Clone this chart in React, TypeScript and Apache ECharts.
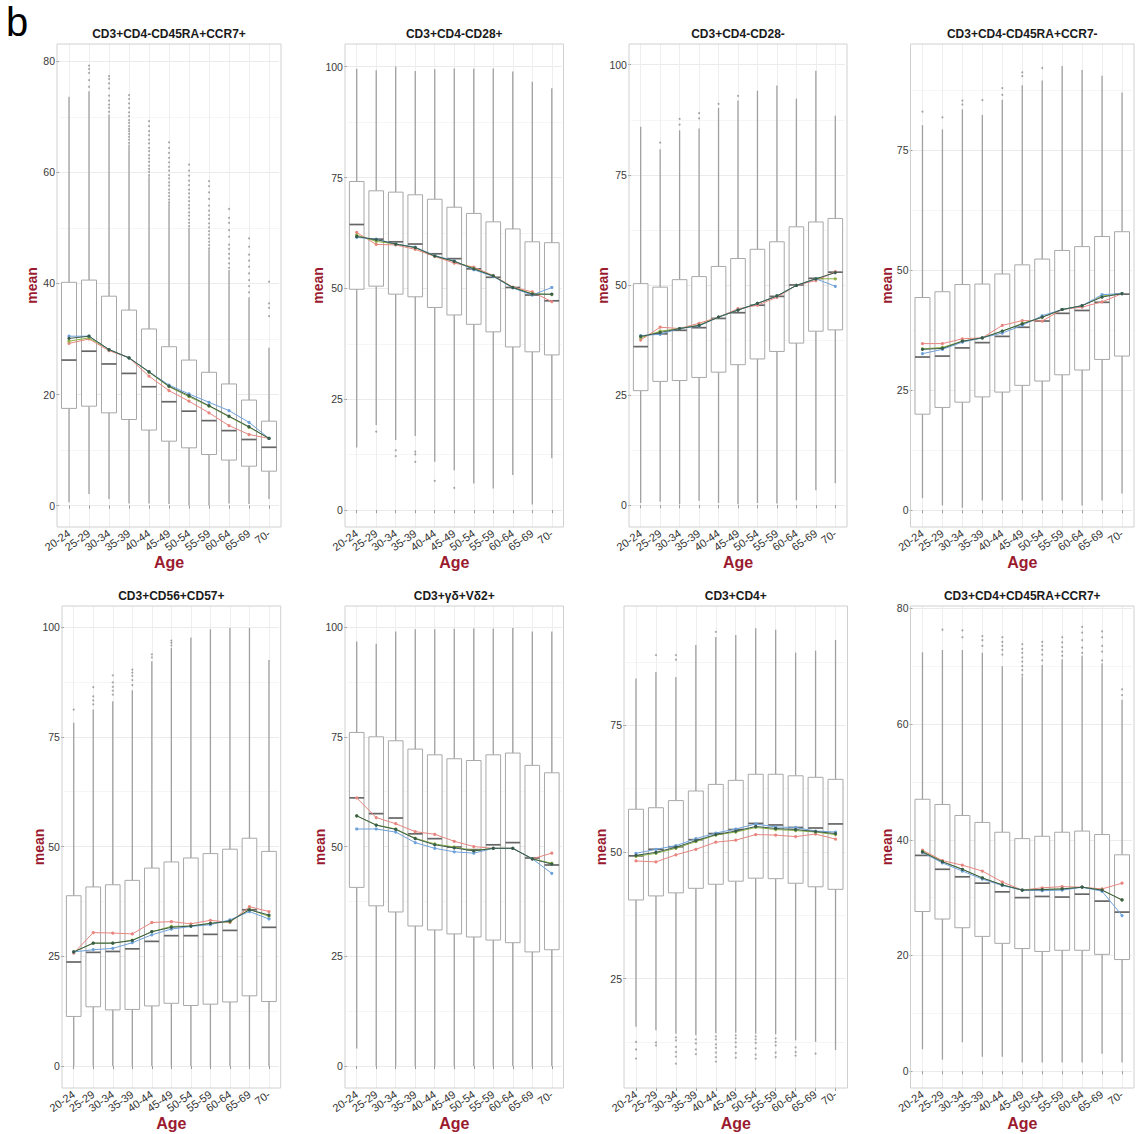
import React, { useEffect, useRef } from "react";
import * as echarts from "echarts";

// ---------- DATA ----------
const ages = ["20-24", "25-29", "30-34", "35-39", "40-44", "45-49", "50-54", "55-59", "60-64", "65-69", "70-"];

const titles = [
  "CD3+CD4-CD45RA+CCR7+",
  "CD3+CD4-CD28+",
  "CD3+CD4-CD28-",
  "CD3+CD4-CD45RA+CCR7-",
  "CD3+CD56+CD57+",
  "CD3+γδ+Vδ2+",
  "CD3+CD4+",
  "CD3+CD4+CD45RA+CCR7+",
];

// group order of mean lines: red, green, blue, dark
// box rows: [min whisker, Q1, median, Q3, max whisker]

// Panel 1: CD3+CD4-CD45RA+CCR7+
const p1Box = [
  [0.6, 17.5, 26.2, 40.2, 73.6], [2.1, 17.9, 27.8, 40.6, 74.6], [1.2, 16.7, 25.5, 37.7, 70.4],
  [0.4, 15.5, 23.8, 35.2, 65.0], [0.4, 13.6, 21.4, 31.8, 59.3], [0.3, 11.6, 18.7, 28.6, 54.4],
  [0.0, 10.4, 17.0, 26.2, 50.0], [0.0, 9.2, 15.3, 24.0, 46.1], [0.4, 8.2, 13.5, 21.9, 42.4],
  [0.3, 7.1, 11.9, 19.0, 37.5], [1.2, 6.2, 10.5, 15.2, 28.4],
];
const p1Red = [29.2, 30.0, 27.9, 26.6, 23.3, 20.7, 18.8, 16.7, 14.4, 12.8, 12.1];
const p1Green = [29.6, 30.2, 28.1, 26.6, 24.0, 21.4, 19.6, 17.9, 16.0, 14.1, 12.1];
const p1Blue = [30.5, 30.5, 28.1, 26.6, 24.1, 21.7, 20.1, 18.6, 17.1, 15.0, 12.1];
const p1Dark = [30.1, 30.5, 28.1, 26.6, 24.1, 21.5, 19.8, 18.0, 16.1, 14.2, 12.1];
const p1Out: [number, number[]][] = [
  [1, [75.4, 76.6, 77.9, 78.6, 79.2]],
  [2, [70.9, 71.6, 72.2, 72.9, 73.8, 75.1, 76.0, 76.8, 77.3]],
  [3, [65.3, 65.9, 66.4, 66.9, 67.4, 67.8, 68.3, 68.9, 69.4, 70.1, 70.8, 71.6, 72.4, 73.2, 73.9]],
  [4, [59.5, 60.1, 60.6, 61.2, 61.9, 62.5, 63.1, 63.8, 64.4, 65.2, 65.9, 66.7, 67.4, 68.3, 69.2]],
  [5, [54.6, 55.1, 55.7, 56.3, 56.9, 57.6, 58.2, 58.9, 59.5, 60.3, 61.0, 61.8, 62.6, 63.5, 64.4, 65.4]],
  [6, [50.3, 50.9, 51.5, 52.2, 52.8, 53.5, 54.1, 54.8, 55.5, 56.2, 56.9, 57.7, 58.5, 59.4, 60.3, 61.4]],
  [7, [46.3, 46.9, 47.5, 48.1, 48.8, 49.4, 50.1, 50.8, 51.6, 52.3, 53.1, 54.0, 55.2, 56.4, 57.5, 58.4]],
  [8, [42.8, 43.6, 44.5, 45.3, 46.2, 47.0, 48.4, 49.6, 50.9, 51.8, 53.4]],
  [9, [38.4, 39.5, 40.6, 41.8, 43.0, 44.1, 45.2, 46.6, 48.1]],
  [10, [34.1, 35.6, 36.4, 40.3]],
];
const p1Ticks = [0, 20, 40, 60, 80];
const p1Minor = [10, 30, 50, 70];

// Panel 2: CD3+CD4-CD28+
const p2Box = [
  [14.1, 49.8, 64.4, 74.1, 99.5], [19.2, 50.5, 61.1, 72.0, 99.2], [15.8, 48.7, 60.5, 71.7, 100.0],
  [16.7, 48.1, 60.0, 71.1, 99.0], [10.9, 45.7, 57.8, 70.1, 99.4], [9.0, 44.0, 56.7, 68.3, 99.6],
  [6.0, 41.9, 54.4, 66.9, 99.5], [4.9, 40.2, 52.5, 65.0, 99.6], [7.9, 36.8, 50.2, 63.4, 98.9],
  [1.3, 35.7, 48.5, 60.5, 96.6], [11.7, 35.0, 47.2, 60.3, 95.1],
];
const p2Red = [62.6, 59.9, 59.8, 58.8, 57.2, 55.7, 54.8, 52.9, 50.3, 49.2, 47.0];
const p2Green = [62.0, 60.6, 60.0, 59.2, 57.3, 56.1, 54.5, 52.8, 50.2, 48.8, 48.6];
const p2Blue = [61.5, 61.1, 60.0, 59.3, 57.4, 56.2, 54.2, 52.7, 50.1, 48.5, 50.2];
const p2Dark = [61.7, 61.0, 60.0, 59.2, 57.3, 56.1, 54.4, 52.8, 50.2, 48.7, 48.7];
const p2Out: [number, number[]][] = [
  [1, [17.7]], [2, [13.5, 12.2]], [3, [13.2, 12.6, 10.9]], [4, [6.6]], [5, [5.0]],
];
const p2Ticks = [0, 25, 50, 75, 100];
const p2Minor = [12.5, 37.5, 62.5, 87.5];

// Panel 3: CD3+CD4-CD28-
const p3Box = [
  [0.5, 26.0, 36.0, 50.3, 85.9], [0.8, 28.1, 38.9, 49.5, 80.8], [0.2, 28.3, 39.7, 51.2, 85.1],
  [1.0, 29.0, 40.3, 51.9, 85.5], [0.5, 30.2, 42.4, 54.2, 90.2], [0.2, 31.9, 43.7, 56.0, 91.9],
  [0.5, 33.2, 45.4, 58.1, 94.1], [0.4, 34.9, 47.4, 59.8, 95.3], [1.1, 36.8, 50.0, 63.2, 92.3],
  [3.4, 39.5, 51.5, 64.3, 98.6], [5.0, 39.8, 52.9, 65.1, 88.4],
];
const p3Red = [37.5, 40.4, 40.1, 41.3, 42.7, 44.6, 45.4, 47.2, 49.9, 51.0, 53.0];
const p3Green = [38.0, 39.5, 40.1, 40.9, 42.7, 44.3, 45.8, 47.5, 49.9, 51.4, 51.4];
const p3Blue = [38.5, 38.8, 40.1, 40.7, 42.7, 44.3, 45.8, 47.5, 49.9, 51.4, 49.7];
const p3Dark = [38.3, 39.2, 40.1, 40.8, 42.7, 44.3, 45.8, 47.5, 49.9, 51.4, 52.8];
const p3Out: [number, number[]][] = [
  [1, [82.3]], [2, [86.4, 87.7]], [3, [87.8, 89.0]], [4, [91.1]], [5, [92.9]],
];
const p3Ticks = [0, 25, 50, 75, 100];
const p3Minor = [12.5, 37.5, 62.5, 87.5];

// Panel 4: CD3+CD4-CD45RA+CCR7-
const p4Box = [
  [2.5, 20.0, 31.9, 44.3, 80.2], [1.0, 21.4, 32.1, 45.5, 79.3], [0.5, 22.5, 33.8, 47.0, 83.5],
  [2.0, 23.6, 34.9, 47.1, 82.3], [2.0, 24.6, 36.2, 49.2, 85.5], [2.0, 26.0, 38.1, 51.1, 88.5],
  [2.0, 26.9, 39.4, 52.3, 89.5], [2.0, 28.2, 41.0, 54.1, 92.5], [1.0, 29.2, 41.6, 54.9, 91.7],
  [2.0, 31.4, 43.3, 57.0, 90.5], [3.5, 32.1, 45.0, 58.0, 87.0],
];
const p4Red = [34.7, 34.7, 35.7, 35.9, 38.5, 39.5, 39.4, 41.8, 42.3, 43.4, 45.1];
const p4Green = [33.6, 33.9, 35.2, 35.9, 37.3, 38.9, 40.2, 41.8, 42.6, 44.6, 45.1];
const p4Blue = [32.6, 33.5, 35.0, 35.9, 36.9, 38.5, 40.5, 41.8, 42.6, 44.9, 45.1];
const p4Dark = [33.5, 33.7, 35.2, 35.9, 37.3, 38.8, 40.2, 41.8, 42.6, 44.4, 45.1];
const p4Out: [number, number[]][] = [
  [0, [83.0]], [1, [81.8]], [2, [84.5, 85.3]], [3, [85.4]], [4, [86.5, 87.9]], [5, [90.4, 91.2]], [6, [92.1]],
];
const p4Ticks = [0, 25, 50, 75];
const p4Minor = [12.5, 37.5, 62.5, 87.5];

// Panel 5: CD3+CD56+CD57+
const p5Box = [
  [0, 11.3, 23.7, 38.8, 78.2], [0, 13.5, 25.9, 40.8, 81.2], [0, 12.8, 26.1, 41.3, 83.1],
  [0, 12.9, 26.7, 42.3, 85.6], [0, 13.7, 28.4, 45.1, 92.2], [0, 14.3, 29.7, 46.5, 95.3],
  [0, 13.8, 29.7, 47.4, 97.6], [0, 14.1, 30.0, 48.4, 99.5], [0, 14.6, 30.9, 49.4, 99.8],
  [0, 16.0, 35.6, 51.9, 99.8], [0, 14.7, 31.6, 48.9, 92.5],
];
const p5Red = [25.7, 30.4, 30.3, 30.1, 32.7, 32.9, 32.4, 33.2, 32.7, 36.3, 35.2];
const p5Green = [26.0, 28.0, 28.0, 28.7, 30.6, 31.8, 31.9, 32.5, 32.9, 35.7, 34.1];
const p5Blue = [26.0, 26.5, 26.8, 28.1, 29.9, 31.2, 31.8, 32.2, 33.3, 35.2, 33.5];
const p5Dark = [26.0, 28.0, 28.0, 28.6, 30.6, 31.6, 31.9, 32.5, 33.0, 35.6, 34.4];
const p5Out: [number, number[]][] = [
  [0, [81.2]], [1, [82.4, 83.3, 84.2, 86.3]], [2, [84.6, 85.5, 86.4, 87.4, 89.0]],
  [3, [86.8, 87.9, 88.9, 89.6, 90.3]], [4, [93.1, 93.8]], [5, [95.8, 96.4, 96.9]],
];
const p5Ticks = [0, 25, 50, 75, 100];
const p5Minor = [12.5, 37.5, 62.5, 87.5];

// Panel 6: CD3+γδ+Vδ2+
const p6Box = [
  [4.0, 40.7, 61.1, 76.0, 96.7], [0, 36.5, 57.5, 75.0, 96.2], [0, 35.1, 56.5, 74.1, 99.0],
  [0, 31.9, 52.9, 72.2, 99.5], [0, 31.0, 51.8, 70.9, 99.5], [0, 30.1, 49.9, 70.0, 99.6],
  [0, 29.4, 49.3, 69.6, 99.7], [0, 28.7, 50.4, 70.9, 99.7], [0, 28.1, 50.9, 71.3, 99.8],
  [0, 26.0, 47.4, 68.5, 99.0], [0, 26.5, 45.8, 66.8, 99.0],
];
const p6Red = [61.1, 56.6, 55.2, 53.4, 52.8, 51.2, 50.0, 49.6, 49.6, 47.2, 48.5];
const p6Green = [57.0, 54.9, 54.0, 51.9, 50.6, 49.9, 49.1, 49.6, 49.6, 47.2, 46.2];
const p6Blue = [54.0, 54.0, 53.3, 50.9, 49.6, 48.8, 48.5, 49.6, 49.6, 47.2, 43.9];
const p6Dark = [57.0, 54.9, 53.9, 51.8, 50.4, 49.7, 49.0, 49.6, 49.6, 47.2, 46.0];
const p6Out: [number, number[]][] = [];
const p6Ticks = [0, 25, 50, 75, 100];
const p6Minor = [12.5, 37.5, 62.5, 87.5];

// Panel 7: CD3+CD4+
const p7Box = [
  [15.5, 40.5, 49.2, 58.4, 84.2], [14.8, 41.3, 50.5, 58.7, 85.5], [14.1, 41.9, 51.0, 60.1, 84.5],
  [13.8, 42.8, 52.4, 62.0, 90.8], [14.2, 43.6, 53.6, 63.3, 92.4], [14.3, 44.2, 54.4, 64.1, 92.8],
  [14.1, 44.8, 55.6, 65.3, 94.1], [14.0, 44.7, 55.3, 65.3, 93.8], [12.8, 43.8, 54.8, 65.0, 89.3],
  [12.5, 43.1, 54.7, 64.7, 89.7], [10.9, 42.6, 55.5, 64.3, 91.8],
];
const p7Red = [48.2, 48.0, 49.4, 50.5, 51.9, 52.3, 53.4, 53.3, 53.0, 53.5, 52.5];
const p7Green = [49.1, 49.7, 50.7, 52.0, 53.3, 53.9, 54.8, 54.4, 54.2, 53.9, 53.4];
const p7Blue = [49.7, 50.5, 51.2, 52.6, 53.7, 54.5, 55.5, 54.9, 54.8, 54.1, 53.9];
const p7Dark = [49.3, 49.9, 50.9, 52.2, 53.4, 54.1, 55.0, 54.6, 54.4, 54.0, 53.6];
const p7Out: [number, number[]][] = [
  [0, [12.5, 11.0, 9.2]],
  [1, [12.4, 11.8, 88.8]],
  [2, [13.4, 12.8, 11.5, 10.5, 9.6, 8.2, 88.8, 87.9]],
  [3, [13.0, 12.2, 11.0, 10.1]],
  [4, [13.6, 13.0, 12.0, 11.3, 10.4, 9.5, 8.6, 93.4]],
  [5, [13.8, 13.2, 12.4, 11.5, 10.3, 9.4]],
  [6, [13.6, 13.0, 12.3, 11.2, 10.0, 9.2]],
  [7, [13.2, 12.5, 11.8, 10.4, 9.5]],
  [8, [11.4, 10.5, 9.8]],
  [9, [10.2]],
];
const p7Ticks = [25, 50, 75];
const p7Minor = [12.5, 37.5, 62.5, 87.5];

// Panel 8: CD3+CD4+CD45RA+CCR7+
const p8Box = [
  [3.8, 27.6, 37.3, 47.0, 72.4], [2.0, 26.3, 34.9, 46.1, 72.8], [5.0, 24.8, 33.6, 44.2, 72.8],
  [2.5, 23.3, 32.5, 43.0, 72.3], [2.5, 22.1, 31.0, 41.3, 70.0], [1.5, 21.2, 30.0, 40.2, 68.2],
  [1.5, 20.7, 30.2, 40.6, 70.2], [1.5, 20.9, 30.1, 41.3, 71.2], [1.5, 20.9, 30.6, 41.5, 71.8],
  [3.0, 20.2, 29.4, 40.9, 70.5], [1.5, 19.3, 27.5, 37.4, 64.2],
];
const p8Red = [38.2, 36.4, 35.6, 34.6, 32.7, 31.3, 31.7, 31.9, 31.8, 31.5, 32.5];
const p8Green = [38.0, 36.2, 34.9, 33.4, 32.2, 31.3, 31.4, 31.5, 31.8, 31.3, 29.6];
const p8Blue = [37.8, 36.0, 34.6, 33.2, 32.1, 31.3, 31.2, 31.3, 31.8, 31.1, 26.9];
const p8Dark = [37.9, 36.2, 34.9, 33.4, 32.2, 31.3, 31.4, 31.5, 31.8, 31.3, 29.6];
const p8Out: [number, number[]][] = [
  [1, [76.3]], [2, [75.0, 76.2]], [3, [73.5, 74.5, 75.2]], [4, [72.0, 72.8, 73.5, 74.2, 75.0]],
  [5, [68.5, 69.3, 70.0, 70.8, 71.5, 72.3, 73.0, 73.8]], [6, [71.0, 72.0, 72.8, 73.5, 74.2]],
  [7, [71.8, 72.5, 73.3, 74.1, 75.0]], [8, [72.3, 73.2, 74.5, 75.8, 76.8]],
  [9, [71.0, 72.5, 73.5, 75.0, 76.0]], [10, [65.0, 66.0]],
];
const p8Ticks = [0, 20, 40, 60, 80];
const p8Minor = [10, 30, 50, 70];

const panels = [
  { box: p1Box, means: [p1Red, p1Green, p1Blue, p1Dark], out: p1Out, ticks: p1Ticks, minor: p1Minor },
  { box: p2Box, means: [p2Red, p2Green, p2Blue, p2Dark], out: p2Out, ticks: p2Ticks, minor: p2Minor },
  { box: p3Box, means: [p3Red, p3Green, p3Blue, p3Dark], out: p3Out, ticks: p3Ticks, minor: p3Minor },
  { box: p4Box, means: [p4Red, p4Green, p4Blue, p4Dark], out: p4Out, ticks: p4Ticks, minor: p4Minor },
  { box: p5Box, means: [p5Red, p5Green, p5Blue, p5Dark], out: p5Out, ticks: p5Ticks, minor: p5Minor },
  { box: p6Box, means: [p6Red, p6Green, p6Blue, p6Dark], out: p6Out, ticks: p6Ticks, minor: p6Minor },
  { box: p7Box, means: [p7Red, p7Green, p7Blue, p7Dark], out: p7Out, ticks: p7Ticks, minor: p7Minor },
  { box: p8Box, means: [p8Red, p8Green, p8Blue, p8Dark], out: p8Out, ticks: p8Ticks, minor: p8Minor },
];

// ---------- LAYOUT / STYLE ----------
const layouts = [
  { left: 57, right: 281, top: 44, bottom: 527, min: -3.85, max: 83.1, meanX: 32 },
  { left: 345, right: 563.5, top: 44, bottom: 527, min: -3.8, max: 105.1, meanX: 318 },
  { left: 629, right: 847, top: 44, bottom: 527, min: -4.95, max: 104.7, meanX: 603 },
  { left: 910.5, right: 1134, top: 44, bottom: 527, min: -3.5, max: 97.1, meanX: 887 },
  { left: 62, right: 280.7, top: 606, bottom: 1088, min: -5.0, max: 104.8, meanX: 39 },
  { left: 345, right: 563.5, top: 606, bottom: 1088, min: -5.0, max: 104.8, meanX: 320 },
  { left: 624, right: 847.5, top: 606, bottom: 1088, min: 3.4, max: 98.5, meanX: 601 },
  { left: 910.5, right: 1134, top: 606, bottom: 1088, min: -2.9, max: 80.4, meanX: 887 },
];

const FONT = "'Liberation Sans', Arial, Helvetica, sans-serif";
const LINE_COLORS = ["#E8857F", "#8DB143", "#6FA2DA", "#3A5C4B"];
const ACCENT = "#9A1B2F";
const BOX_STROKE = "#a8a8a8";
const WHISKER = "#a0a0a0";
const MEDIAN = "#666666";

function renderBox(params: any, api: any) {
  const x = api.value(0);
  const lo = api.coord([x, api.value(1)]);
  const q1 = api.coord([x, api.value(2)]);
  const md = api.coord([x, api.value(3)]);
  const q3 = api.coord([x, api.value(4)]);
  const hi = api.coord([x, api.value(5)]);
  const band = api.size([1, 0])[0];
  const hw = band * 0.375;
  return {
    type: "group",
    children: [
      { type: "line", shape: { x1: lo[0], y1: lo[1], x2: q1[0], y2: q1[1] }, style: { stroke: WHISKER, lineWidth: 1.3 } },
      { type: "line", shape: { x1: q3[0], y1: q3[1], x2: hi[0], y2: hi[1] }, style: { stroke: WHISKER, lineWidth: 1.3 } },
      { type: "rect", shape: { x: q3[0] - hw, y: q3[1], width: hw * 2, height: q1[1] - q3[1] }, style: { fill: "#ffffff", stroke: BOX_STROKE, lineWidth: 1 } },
      { type: "line", shape: { x1: md[0] - hw, y1: md[1], x2: md[0] + hw, y2: md[1] }, style: { stroke: MEDIAN, lineWidth: 1.7 } },
    ],
  };
}

function buildOption() {
  const grid: any[] = [];
  const xAxis: any[] = [];
  const yAxis: any[] = [];
  const series: any[] = [];
  const graphic: any[] = [];

  graphic.push({
    type: "text", x: 6, y: 22, silent: true,
    style: { text: "b", font: `40px ${FONT}`, fill: "#000", textAlign: "left", textVerticalAlign: "middle" },
  });

  panels.forEach((p, i) => {
    const L = layouts[i];
    const unit = (L.right - L.left) / 11.2;
    const height = L.bottom - L.top;
    grid.push({ left: L.left + 0.1 * unit, top: L.top, width: 11 * unit, height, outerBoundsMode: "none", containLabel: false });

    xAxis.push({
      type: "category", gridIndex: i, data: ages, boundaryGap: true,
      axisLine: { show: false },
      axisTick: { show: true, alignWithLabel: true, length: 3, lineStyle: { color: "#9a9a9a" } },
      axisLabel: { interval: 0, rotate: 35, fontSize: 11, color: "#333", margin: 5, fontFamily: FONT },
      splitLine: { show: true, alignWithLabel: true, interval: 0, lineStyle: { color: "#eeeeee", width: 1 } },
    });

    yAxis.push({
      type: "value", gridIndex: i, min: L.min, max: L.max, position: "left",
      axisLine: { show: false },
      axisTick: { show: true, length: 3, customValues: p.ticks, lineStyle: { color: "#9a9a9a" } },
      axisLabel: { customValues: p.ticks, fontSize: 10.5, color: "#3a3a3a", margin: 4, fontFamily: FONT },
      splitLine: { show: true, lineStyle: { color: "#ebebeb", width: 1 } },
    });
    yAxis.push({
      type: "value", gridIndex: i, min: L.min, max: L.max, position: "right",
      axisLine: { show: false },
      axisTick: { show: false, customValues: p.minor },
      axisLabel: { show: false, customValues: p.minor },
      splitLine: { show: true, lineStyle: { color: "#f5f5f5", width: 1 } },
    });

    series.push({
      type: "custom", xAxisIndex: i, yAxisIndex: 2 * i, silent: true, z: 2,
      data: p.box.map((b, k) => [k, ...b]),
      encode: { x: 0, y: [1, 2, 3, 4, 5] },
      renderItem: renderBox,
    });

    const outData: number[][] = [];
    p.out.forEach(([k, vals]) => vals.forEach((v) => outData.push([k, v])));
    series.push({
      type: "scatter", xAxisIndex: i, yAxisIndex: 2 * i, silent: true, z: 3,
      data: outData, symbolSize: 2, itemStyle: { color: "#555", opacity: 0.5 },
    });

    p.means.forEach((vals, k) => {
      series.push({
        type: "line", xAxisIndex: i, yAxisIndex: 2 * i, silent: true, z: 4 + k,
        data: vals, symbol: "circle", symbolSize: 3.2, showSymbol: true,
        lineStyle: { width: 1, color: LINE_COLORS[k] }, itemStyle: { color: LINE_COLORS[k] },
      });
    });

    const cx = (L.left + L.right) / 2;
    graphic.push({
      type: "rect", silent: true, z: 10,
      shape: { x: L.left, y: L.top, width: L.right - L.left, height },
      style: { fill: "none", stroke: "#d0d0d0", lineWidth: 1 },
    });
    graphic.push({
      type: "text", x: cx, y: L.top - 10, silent: true,
      style: { text: titles[i], font: `bold 12px ${FONT}`, fill: "#1a1a1a", textAlign: "center", textVerticalAlign: "middle" },
    });
    graphic.push({
      type: "text", x: L.meanX, y: (L.top + L.bottom) / 2, rotation: Math.PI / 2, silent: true,
      style: { text: "mean", font: `bold 14px ${FONT}`, fill: ACCENT, textAlign: "center", textVerticalAlign: "middle" },
    });
    graphic.push({
      type: "text", x: cx, y: L.bottom + 35, silent: true,
      style: { text: "Age", font: `bold 16px ${FONT}`, fill: ACCENT, textAlign: "center", textVerticalAlign: "middle" },
    });
  });

  return { animation: false, backgroundColor: "#ffffff", grid, xAxis, yAxis, series, graphic };
}

export default function App() {
  const ref = useRef<HTMLDivElement>(null);
  useEffect(() => {
    if (!ref.current) return;
    const chart = echarts.init(ref.current, null, { renderer: "svg" });
    chart.setOption(buildOption() as any);
    return () => chart.dispose();
  }, []);
  return (
    <div
      ref={ref}
      style={{ position: "absolute", left: 0, top: 0, width: 1141, height: 1134, background: "#fff" }}
    />
  );
}
